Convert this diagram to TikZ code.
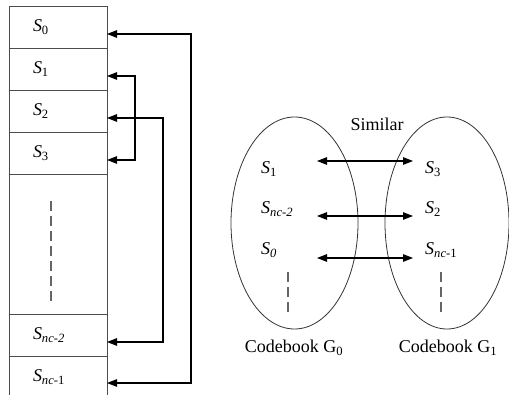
\documentclass[tikz,border=0pt]{standalone}
\usepackage{fontspec}
\setmainfont{Liberation Serif}
\usetikzlibrary{positioning,calc,arrows.meta,shapes.geometric}
\tikzstyle{cell}=[draw=black!70, line width=0.9pt, minimum width=98pt, minimum height=42pt, text width=50pt, inner xsep=24pt, inner ysep=0pt, align=left, outer sep=0pt]
\tikzstyle{link}=[<->, >={Triangle[length=10pt,width=7.5pt]}, line width=1.1pt, black]
\tikzstyle{dots}=[draw=black!60, line width=1.3pt, dash pattern=on 10pt off 5pt]
\tikzstyle{group}=[ellipse, draw=black!80, line width=0.8pt, minimum width=127pt, minimum height=212pt, inner sep=0pt]
\tikzstyle{lbl}=[anchor=base west, inner sep=0pt]
\newcommand{\Sx}[1]{\textit{S}\textsubscript{#1}}

\begin{document}
\begin{tikzpicture}[x=1pt, y=-1pt, font=\fontsize{18}{22}\selectfont]
\useasboundingbox (0,0) rectangle (509,395);
% Cells
    \node[cell] (c0) at (58,27) {\Sx{0}};
    \node[cell, below=0pt of c0] (c1) {\Sx{1}};
    \node[cell, below=0pt of c1] (c2) {\Sx{2}};
    \node[cell, below=0pt of c2] (c3) {\Sx{3}};
    \node[cell, below=0pt of c3, minimum height=140pt] (cgap) {};
    \node[cell, below=0pt of cgap] (cn2) {\Sx{\textit{nc-2}}};
    \node[cell, below=0pt of cn2] (cn1) {\Sx{\textit{nc}-1}};
    \draw[dots] (51,201) -- (51,301);
% Links between cells
    \draw[link] ($(c0.east)+(0,7)$) -- ++(84,0) |- ($(cn1.east)+(0,6)$);
    \draw[link] ($(c1.east)+(0,7)$) -- ++(28,0) |- ($(c3.east)+(0,7)$);
    \draw[link] ($(c2.east)+(0,7)$) -- ++(56,0) |- ($(cn2.east)+(0,7)$);
% Codebooks
    \node[group] (g0) at (294.5,223) {};
    \node[group, minimum width=124pt] (g1) at (447,223) {};
    \node[lbl] (a1) at (261,174) {\Sx{1}};
    \node[lbl] (a2) at (261,214) {\Sx{\textit{nc-2}}};
    \node[lbl] (a3) at (261,255) {\Sx{\textit{0}}};
    \node[lbl] (b1) at (425,174) {\Sx{3}};
    \node[lbl] (b2) at (425,214) {\Sx{2}};
    \node[lbl] (b3) at (425,255) {\Sx{\textit{nc}-1}};
    \draw[dots] (288,272) -- (288,312);
    \draw[dots] (441,272) -- (441,312);
% Similar pairs
    \foreach \y [count=\i] in {161,216,258} {
        \coordinate (p\i) at (317,\y);
        \coordinate (q\i) at (413,\y);
        \draw[link] (p\i) -- (q\i);
    }
    \node[anchor=base] (sim) at (377,131) {Similar};
    \node[anchor=base] (n0) at (294,353) {Codebook G\textsubscript{0}};
    \node[anchor=base] (n1) at (448,353) {Codebook G\textsubscript{1}};
\end{tikzpicture}
\end{document}
